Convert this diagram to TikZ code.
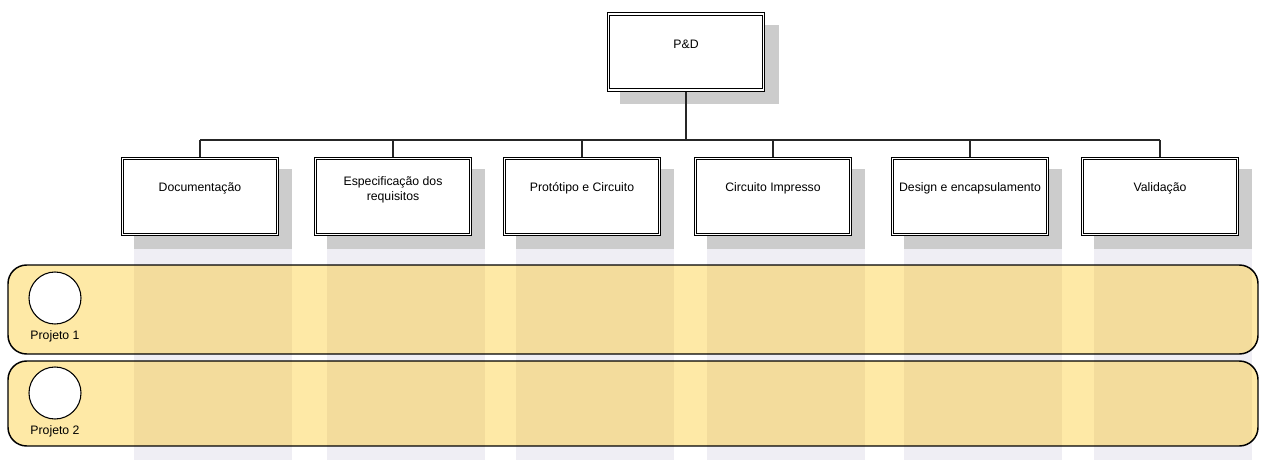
\documentclass[tikz,border=0pt]{standalone}
\usepackage{fontspec}
\setmainfont{Liberation Sans}
\definecolor{laneyel}{RGB}{254,233,166}
\definecolor{lanedark}{RGB}{243,220,156}
\definecolor{colgray}{RGB}{239,238,244}
\definecolor{shadowgray}{RGB}{204,204,204}
\tikzset{
  wbox/.style={draw=black, line width=0.7pt, fill=white,
    minimum width=118pt, minimum height=59pt, inner sep=0pt},
  innerline/.style={draw=black, line width=0.7pt},
  lbl/.style={font=\fontsize{9.2pt}{11pt}\selectfont, align=center, inner sep=0pt},
  conn/.style={draw=black!85, line width=0.8pt},
  lane/.style={draw=black, line width=1.1pt, rounded corners=14pt},
  proj/.style={draw=black, line width=0.8pt, fill=white, circle, minimum size=39pt, inner sep=0pt},
}
\begin{document}
\begin{tikzpicture}[x=0.75pt,y=-0.75pt]
\useasboundingbox (0,0) rectangle (1264,460);
% columns (lavender bands) and shadows
\foreach \cx in {200,393,582,773,970,1160}{
  \fill[colgray] (\cx-66,249) rectangle (\cx+92,460);
  \fill[shadowgray] (\cx-66,169) rectangle (\cx+92,249);
}
\fill[shadowgray] (620,25) rectangle (779,104);
% lanes
\foreach \ty/\by in {265/354,361/446}{
  \begin{scope}
    \clip[rounded corners=14pt] (8,\ty) rectangle (1258,\by);
    \fill[laneyel] (8,\ty) rectangle (1258,\by);
    \foreach \cx in {200,393,582,773,970,1160}{
      \fill[lanedark] (\cx-66,\ty) rectangle (\cx+92,\by);
    }
  \end{scope}
  \draw[lane] (8,\ty) rectangle (1258,\by);
}
% boxes
\node[wbox] (pd) at (686,52) {};
\node[wbox] (b1) at (200,196.5) {};
\node[wbox] (b2) at (393,196.5) {};
\node[wbox] (b3) at (582,196.5) {};
\node[wbox] (b4) at (773,196.5) {};
\node[wbox] (b5) at (970,196.5) {};
\node[wbox] (b6) at (1160,196.5) {};
\foreach \b in {pd,b1,b2,b3,b4,b5,b6}{
  \draw[innerline] ([shift={(2.3pt,-2.3pt)}]\b.north west) rectangle ([shift={(-2.3pt,2.3pt)}]\b.south east);
}
% texts
\node[lbl] (tpd) at (686,44) {P\&D};
\node[lbl] (t1) at (200,188) {Documentação};
\node[lbl] (t2) at (393,190) {Especificação dos\\requisitos};
\node[lbl] (t3) at (582,188) {Protótipo e Circuito};
\node[lbl] (t4) at (773,188) {Circuito Impresso};
\node[lbl] (t5) at (970,188) {Design e encapsulamento};
\node[lbl] (t6) at (1160,188) {Validação};
% connectors
\coordinate (bus) at (0,140);
\draw[conn] (pd.south) -- (pd.south |- bus);
\draw[conn] (b1.north |- bus) -- (b6.north |- bus);
\foreach \b in {b1,b2,b3,b4,b5,b6}{
  \draw[conn] (\b.north) -- (\b.north |- bus);
}
% project circles
\node[proj] (p1) at (55,298) {};
\node[proj] (p2) at (55,393) {};
\node[lbl] (l1) at (55,336) {Projeto 1};
\node[lbl] (l2) at (55,431) {Projeto 2};
\end{tikzpicture}
\end{document}
